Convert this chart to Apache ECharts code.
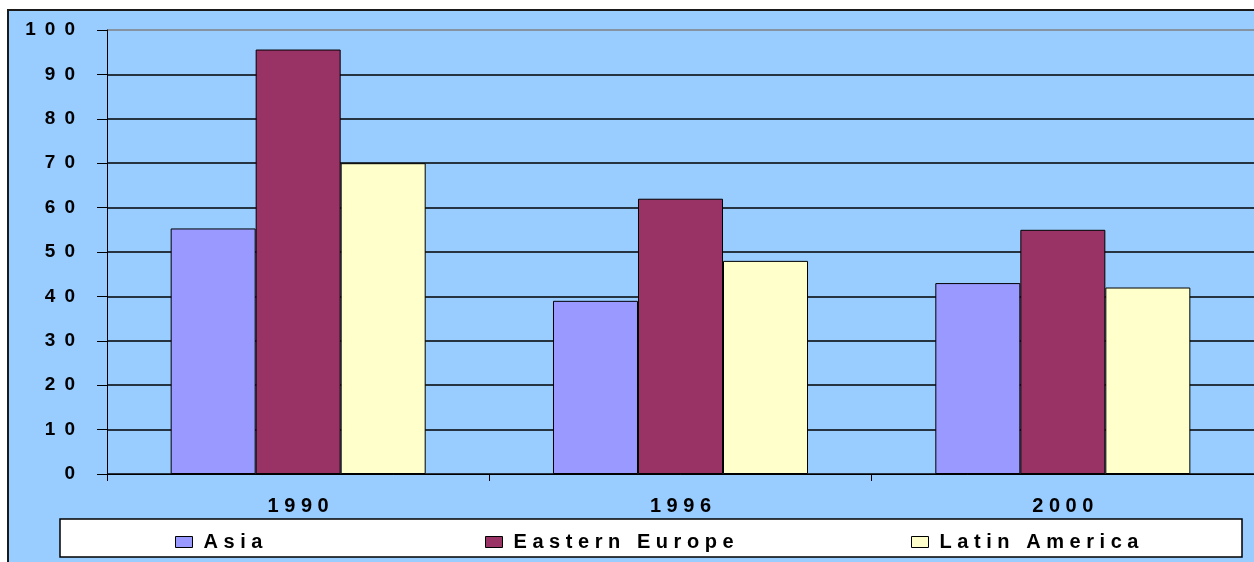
<!DOCTYPE html>
<html>
<head>
<meta charset="utf-8">
<script src="https://cdn.jsdelivr.net/npm/echarts@6/dist/echarts.min.js"></script>
<style>
html,body{margin:0;padding:0;background:#fff;}
#chart{width:1254px;height:562px;}
</style>
</head>
<body>
<div id="chart"></div>
<script>
const categories = ['1990', '1996', '2000'];
const seriesNames = ['Asia', 'Eastern Europe', 'Latin America'];
const asia = [55.3, 39, 43];
const easternEurope = [95.6, 62, 55];
const latinAmerica = [70, 48, 42];
const yTicks = { min: 0, max: 100, interval: 10 };

const colors = ['#9999FF', '#993366', '#FFFFCC'];
const font = "'Liberation Sans', Arial, sans-serif";
const spaced = (s, sep) => String(s).split('').join(sep);

const chart = echarts.init(document.getElementById('chart'), null, { renderer: 'canvas' });

const legendLefts = [170, 480, 906];
const option = {
  animation: false,
  graphic: [
    { type: 'rect', z: -10, shape: { x: 8, y: 10, width: 1300, height: 620 },
      style: { fill: '#99CCFF', stroke: '#1a1a1a', lineWidth: 2 } },
    { type: 'rect', z: 3, shape: { x: 60, y: 519, width: 1182, height: 38 },
      style: { fill: '#ffffff', stroke: '#000000', lineWidth: 1.5 } }
  ],
  grid: { left: 107, right: 0, top: 30, bottom: 88, containLabel: false },
  legend: seriesNames.map((n, i) => ({
    data: [n],
    left: legendLefts[i],
    top: 527,
    orient: 'horizontal',
    itemWidth: 17,
    itemHeight: 11,
    icon: 'rect',
    selectedMode: false,
    itemStyle: { borderColor: '#000', borderWidth: 1 },
    formatter: name => spaced(name, ' '),
    textStyle: { fontFamily: font, fontWeight: 'bold', fontSize: 20, color: '#000', padding: [0, 0, 0, 6] }
  })),
  xAxis: {
    type: 'category',
    data: categories,
    axisLine: { lineStyle: { color: '#000', width: 1 } },
    axisTick: { show: true, length: 7, lineStyle: { color: '#000' } },
    axisLabel: {
      margin: 22, color: '#000', fontFamily: font, fontWeight: 'bold', fontSize: 20,
      formatter: v => spaced(v, ' ')
    },
    splitLine: { show: false }
  },
  yAxis: {
    type: 'value',
    min: yTicks.min, max: yTicks.max, interval: yTicks.interval,
    axisLine: { show: true, lineStyle: { color: '#000', width: 1 } },
    axisTick: { show: true, length: 10, lineStyle: { color: '#000' } },
    axisLabel: {
      margin: 32, color: '#000', fontFamily: font, fontWeight: 'bold', fontSize: 19,
      formatter: v => spaced(v, ' \u2009')
    },
    splitLine: {
      show: true,
      lineStyle: {
        color: ['#000', '#000', '#000', '#000', '#000', '#000', '#000', '#000', '#000', '#000', '#808080'],
        width: 1.5
      }
    }
  },
  series: [asia, easternEurope, latinAmerica].map((d, i) => ({
    name: seriesNames[i],
    type: 'bar',
    data: d,
    barGap: '0%',
    barCategoryGap: '33.3%',
    itemStyle: { color: colors[i], borderColor: '#000', borderWidth: 1 }
  }))
};
chart.setOption(option);
</script>
</body>
</html>
